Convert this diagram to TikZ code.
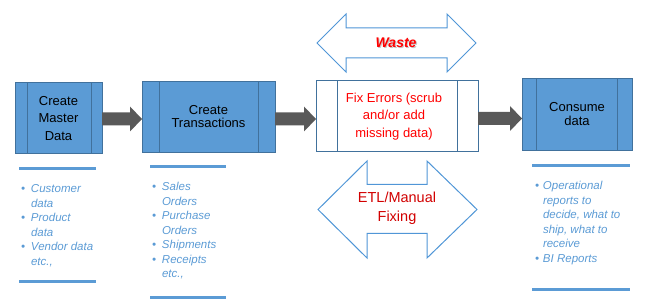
\documentclass[tikz,border=0pt]{standalone}
\usepackage{fontspec}
\setmainfont{Liberation Sans}
\usetikzlibrary{calc}
\definecolor{boxfill}{RGB}{91,155,213}
\definecolor{boxedge}{RGB}{65,113,156}
\definecolor{listblue}{RGB}{91,155,213}
\definecolor{arrowgrey}{RGB}{89,89,89}
\definecolor{etlred}{RGB}{210,0,0}
\definecolor{outlineblue}{RGB}{80,150,215}

% block arrow from node #1 to node #2, vertical offset #3
\newcommand\blockarr[3]{%
  \path ($(#1.east)+(0,#3)$) coordinate (s) ($(#2.west |- #1.east)+(0,#3)$) coordinate (t);
  \fill[arrowgrey] ($(s)+(0,-6.5)$) -- ($(t)+(-12,-6.5)$) -- ($(t)+(-12,-12.5)$) -- (t)
    -- ($(t)+(-12,12.5)$) -- ($(t)+(-12,6.5)$) -- ($(s)+(0,6.5)$) -- cycle;}

\begin{document}
\begin{tikzpicture}[x=1pt,y=-1pt,
  procbox/.style={draw=boxedge, fill=boxfill, line width=1pt, inner sep=0pt, outer sep=0pt,
    align=center, font=\fontsize{13}{17.5}\selectfont, text=black},
  fixbox/.style={procbox, fill=white, text=red},
  inline/.style={draw=boxedge, line width=1pt},
  listtext/.style={inner sep=0pt, outer sep=0pt, text=listblue,
    font=\fontsize{11.5}{14.5}\selectfont\itshape},
  bar/.style={draw=listblue, line width=3pt},
  dbl/.style={draw=outlineblue, line width=1pt, fill=white, line join=miter}
]
\useasboundingbox (0,0) rectangle (648,307);

% process boxes
\node[procbox, minimum width=87pt, minimum height=71pt] (b1) at (58.5,118.5) {Create\\Master\\Data};
\node[procbox, minimum width=133pt, minimum height=71pt] (b2) at (208.5,117.5) {\raisebox{2pt}{\shortstack{Create\\[1pt]Transactions}}};
\node[fixbox, minimum width=162pt, minimum height=71pt] (b3) at (397,116.5) {\hspace*{-6pt}Fix Errors (scrub\\\hspace*{-6pt}and/or add\\\hspace*{-6pt}missing data)};
\node[procbox, minimum width=110pt, minimum height=72pt] (b4) at (577,115) {\raisebox{2.5pt}{\shortstack{Consume\\[1pt]data}}};

\draw[inline] ([xshift=12pt]b1.north west) -- ([xshift=12pt]b1.south west);
\draw[inline] ([xshift=-11pt]b1.north east) -- ([xshift=-11pt]b1.south east);
\draw[inline] ([xshift=17pt]b2.north west) -- ([xshift=17pt]b2.south west);
\draw[inline] ([xshift=-17pt]b2.north east) -- ([xshift=-17pt]b2.south east);
\draw[inline] ([xshift=21pt]b3.north west) -- ([xshift=21pt]b3.south west);
\draw[inline] ([xshift=-21pt]b3.north east) -- ([xshift=-21pt]b3.south east);
\draw[inline] ([xshift=14pt]b4.north west) -- ([xshift=14pt]b4.south west);
\draw[inline] ([xshift=-15pt]b4.north east) -- ([xshift=-15pt]b4.south east);

% block arrows
\blockarr{b1}{b2}{0.5}
\blockarr{b2}{b3}{1.5}
\blockarr{b3}{b4}{2}

% Waste double arrow
\coordinate (wc) at (396.5,43);
\draw[dbl] ($(wc)+(-79.5,0)$) -- ($(wc)+(-50.5,-29)$) -- ($(wc)+(-50.5,-15)$) -- ($(wc)+(50.5,-15)$)
  -- ($(wc)+(50.5,-29)$) -- ($(wc)+(79.5,0)$) -- ($(wc)+(50.5,29)$) -- ($(wc)+(50.5,15)$)
  -- ($(wc)+(-50.5,15)$) -- ($(wc)+(-50.5,29)$) -- cycle;
\node[inner sep=0pt, font=\fontsize{14}{16}\selectfont\bfseries\itshape] (waste) at ($(wc)+(-0.5,0)$)
  {\makebox[0pt][l]{\raisebox{-1.2pt}{\hspace{1.2pt}\color{black!22}Waste}}\color{red}Waste};

% ETL double arrow
\coordinate (ec) at (397.5,209.5);
\draw[dbl] ($(ec)+(-79.5,0)$) -- ($(ec)+(-30.5,-48.5)$) -- ($(ec)+(-30.5,-25)$) -- ($(ec)+(29.5,-25)$)
  -- ($(ec)+(29.5,-48.5)$) -- ($(ec)+(79.5,0)$) -- ($(ec)+(29.5,48.5)$) -- ($(ec)+(29.5,24)$)
  -- ($(ec)+(-30.5,24)$) -- ($(ec)+(-30.5,48.5)$) -- cycle;
\node[inner sep=0pt, align=center, text=etlred, font=\fontsize{14.5}{19}\selectfont] (etl) at ($(ec)+(-0.5,-1)$)
  {ETL/Manual\\Fixing};

% list 1
\draw[bar] (19,168.5) -- (96,168.5);
\draw[bar] (19,281.5) -- (96,281.5);
\node[listtext, anchor=base west] (l1) at (21,193) {\begin{tabular}[t]{@{}p{10pt}@{}l@{}}
\textbullet & Customer\\
 & data\\
\textbullet & Product\\
 & data\\
\textbullet & Vendor data\\
 & etc.,
\end{tabular}};

% list 2
\draw[bar] (150,166.5) -- (226,166.5);
\draw[bar] (150,297.5) -- (226,297.5);
\node[listtext, anchor=base west] (l2) at (152,191) {\begin{tabular}[t]{@{}p{10pt}@{}l@{}}
\textbullet & Sales\\
 & Orders\\
\textbullet & Purchase\\
 & Orders\\
\textbullet & Shipments\\
\textbullet & Receipts\\
 & etc.,
\end{tabular}};

% list 3
\draw[bar] (532,165.5) -- (630,165.5);
\draw[bar] (532,289) -- (630,289);
\node[listtext, anchor=base west] (l3) at (535,190) {\begin{tabular}[t]{@{}p{8pt}@{}l@{}}
\textbullet & Operational\\
 & reports to\\
 & decide, what to\\
 & ship, what to\\
 & receive\\
\textbullet & BI Reports
\end{tabular}};
\end{tikzpicture}
\end{document}
